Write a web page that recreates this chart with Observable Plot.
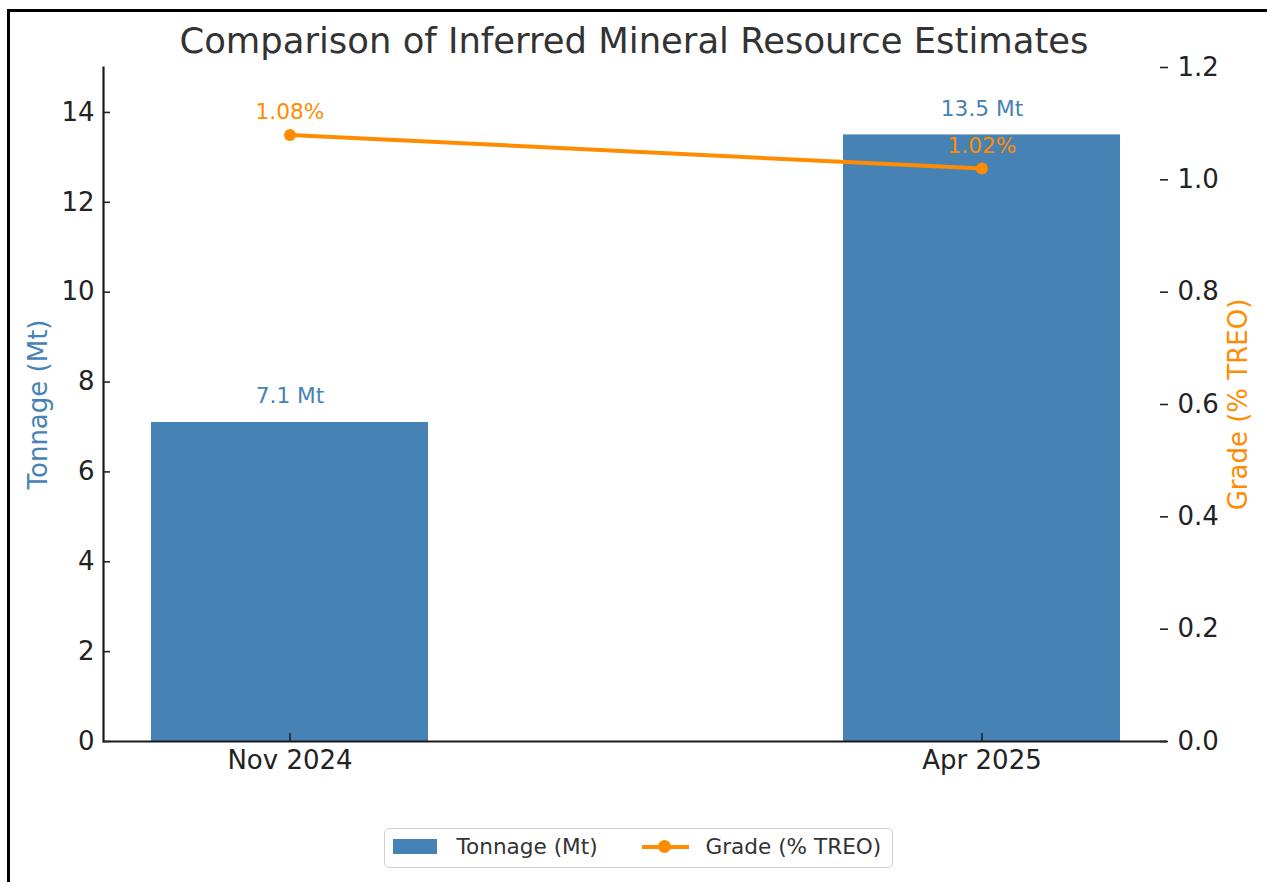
<!DOCTYPE html>
<html>
<head>
<meta charset="utf-8">
<script src="https://cdn.jsdelivr.net/npm/d3@7"></script>
<script src="https://cdn.jsdelivr.net/npm/@observablehq/plot@0.6"></script>
<style>
  body { margin: 0; background: #fff; font-family: "DejaVu Sans", sans-serif; }
  #wrap { position: relative; width: 1267px; height: 882px; overflow: hidden; background: #fff; }
  #chart { position: absolute; left: 0; top: 0; }
  #title { position: absolute; left: 0; top: 23px; width: 1268px; text-align: center; font-size: 35.4px; line-height: 35px; color: #333; white-space: nowrap; }
  #border { position: absolute; left: 7px; top: 9px; width: 1280px; height: 900px; border-top: 3px solid #000; border-left: 3px solid #000; pointer-events: none; }
  #legend { position: absolute; left: 384px; top: 828px; width: 509px; height: 40px; box-sizing: border-box; border: 1.5px solid #d0d0d0; border-radius: 5px; background: #fff; }
  .lg { position: absolute; font-size: 21.6px; line-height: 40px; top: -2px; color: #333; white-space: nowrap; }
  #patch { position: absolute; left: 7.5px; top: 9.5px; width: 44px; height: 15px; background: #4682b4; }
  #lline { position: absolute; left: 256.5px; top: 15.5px; width: 47px; height: 4px; background: #ff8c00; }
  #ldot { position: absolute; left: 273px; top: 11px; width: 13px; height: 13px; border-radius: 50%; background: #ff8c00; }
</style>
</head>
<body>
<div id="wrap">
  <div id="chart"></div>
  <div id="title">Comparison of Inferred Mineral Resource Estimates</div>
  <div id="legend">
    <div id="patch"></div>
    <span class="lg" style="left:71.5px">Tonnage (Mt)</span>
    <div id="lline"></div>
    <div id="ldot"></div>
    <span class="lg" style="left:320.5px">Grade (% TREO)</span>
  </div>
  <div id="border"></div>
</div>
<script>
const categories = ["Nov 2024", "Apr 2025"];
const tonnage = [7.1, 13.5];
const grade = [1.08, 1.02];
const tonnageLabels = ["7.1 Mt", "13.5 Mt"];
const gradeLabels = ["1.08%", "1.02%"];
const tonnageTicks = [0, 2, 4, 6, 8, 10, 12, 14];
const gradeTicks = [0, 0.2, 0.4, 0.6, 0.8, 1.0, 1.2];
const tonnageMax = 15;
const gradeMax = 1.2;
const k = tonnageMax / gradeMax;

const data = categories.map((c, i) => ({
  cat: c, tonnage: tonnage[i], grade: grade[i], tl: tonnageLabels[i], gl: gradeLabels[i]
}));

const chart = Plot.plot({
  width: 1267,
  height: 800,
  marginTop: 67,
  marginLeft: 103,
  marginRight: 100,
  marginBottom: 59,
  style: { fontFamily: "DejaVu Sans", background: "transparent", overflow: "visible" },
  x: { domain: categories, paddingInner: 0.6, paddingOuter: 0.0685, label: null },
  y: { domain: [0, tonnageMax], label: null },
  marks: [
    Plot.barY(data, { x: "cat", y: "tonnage", fill: "#4682b4" }),
    Plot.ruleY([0], { stroke: "#1a1a1a", strokeWidth: 2.2 }),
    Plot.frame({ anchor: "left", stroke: "#1a1a1a", strokeWidth: 2.2 }),
    Plot.axisY({ ticks: tonnageTicks, tickSize: -7, tickPadding: 16, fontSize: 26, color: "#222", strokeWidth: 1.6, label: null }),
    Plot.axisY({ anchor: "right", ticks: gradeTicks.map(g => g * k), tickFormat: d => (d / k).toFixed(1), tickSize: -8, tickPadding: 18, fontSize: 26, color: "#222", strokeWidth: 1.6, label: null }),
    Plot.axisX({ tickSize: -8, tickPadding: 17, fontSize: 26, color: "#222", strokeWidth: 1.6, label: null }),
    Plot.line(data, { x: "cat", y: d => d.grade * k, stroke: "#ff8c00", strokeWidth: 4 }),
    Plot.dot(data, { x: "cat", y: d => d.grade * k, r: 6, fill: "#ff8c00" }),
    Plot.text(data, { x: "cat", y: "tonnage", text: "tl", dy: -26, fill: "#4682b4", fontSize: 21.7 }),
    Plot.text(data, { x: "cat", y: d => d.grade * k, text: "gl", dy: -23, fill: "#ff8c00", fontSize: 21.7 }),
    Plot.text(["Tonnage (Mt)"], { text: d => d, frameAnchor: "left", dx: -65, rotate: -90, textAnchor: "middle", fill: "#4682b4", fontSize: 26 }),
    Plot.text(["Grade (% TREO)"], { text: d => d, frameAnchor: "right", dx: 71, rotate: -90, textAnchor: "middle", fill: "#ff8c00", fontSize: 26 })
  ]
});
document.getElementById("chart").appendChild(chart);
</script>
</body>
</html>
